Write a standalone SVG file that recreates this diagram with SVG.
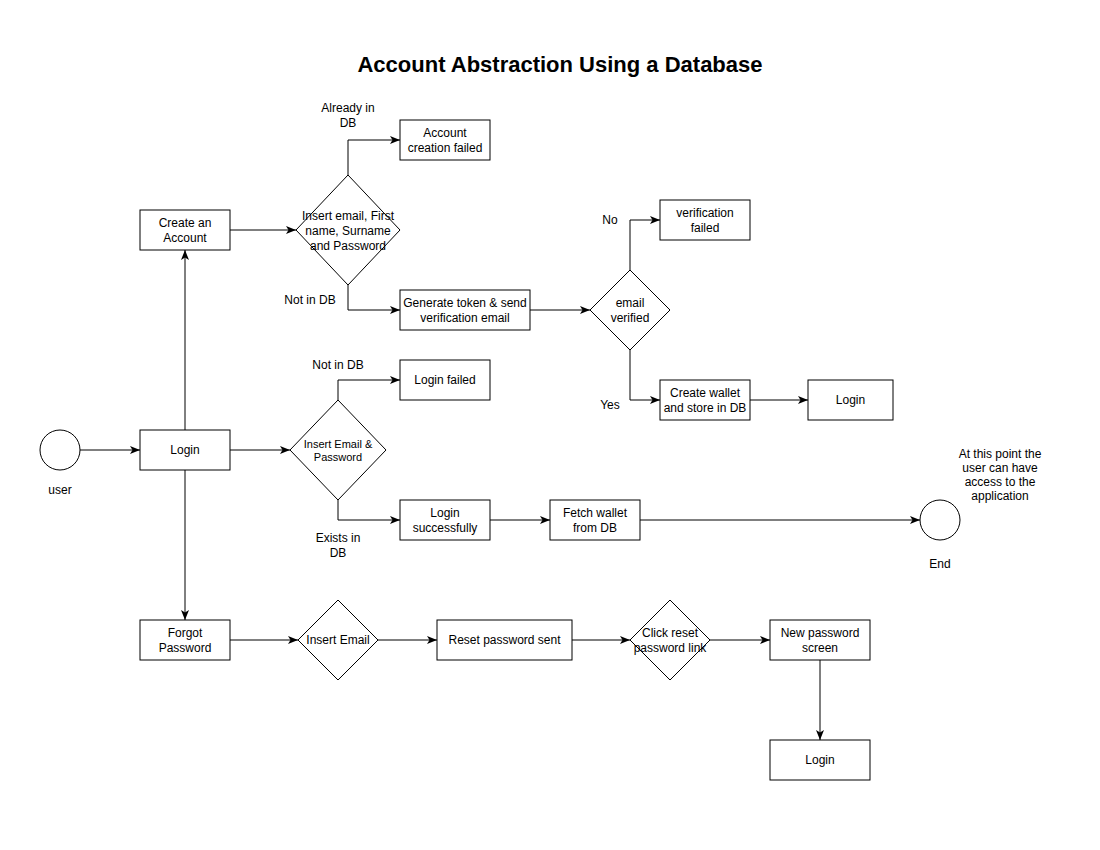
<svg xmlns="http://www.w3.org/2000/svg" width="1100" height="850" viewBox="0 0 1100 850">
<style>
  text { font-family: "Liberation Sans", Arial, sans-serif; font-size: 12px; fill: #000; text-anchor: middle; }
  .title { font-size: 22px; font-weight: bold; }
  .small { font-size: 11px; }
  .shape { fill: #fff; stroke: #000; stroke-width: 1; }
  .edge { fill: none; stroke: #000; stroke-width: 1; marker-end: url(#arrow); }
</style>
<defs>
  <marker id="arrow" markerUnits="userSpaceOnUse" markerWidth="10" markerHeight="8" refX="10" refY="4" orient="auto">
    <path d="M0,0 L10,4 L0,8 L2.5,4 z" fill="#000"/>
  </marker>
</defs>
<rect width="1100" height="850" fill="#fff"/>
<text class="title" x="560" y="72">Account Abstraction Using a Database</text>

<g id="connectors">
  <path class="edge" d="M80,450 L140,450"/>
  <path class="edge" d="M185,430 L185,250"/>
  <path class="edge" d="M185,470 L185,620"/>
  <path class="edge" d="M230,230 L296,230"/>
  <path class="edge" d="M348,175 L348,140 L400,140"/>
  <path class="edge" d="M348,285 L348,310 L400,310"/>
  <path class="edge" d="M530,310 L590,310"/>
  <path class="edge" d="M630,270 L630,220 L660,220"/>
  <path class="edge" d="M630,350 L630,400 L660,400"/>
  <path class="edge" d="M750,400 L808,400"/>
  <path class="edge" d="M230,450 L290,450"/>
  <path class="edge" d="M338,400 L338,380 L400,380"/>
  <path class="edge" d="M338,500 L338,520 L400,520"/>
  <path class="edge" d="M490,520 L550,520"/>
  <path class="edge" d="M640,520 L920,520"/>
  <path class="edge" d="M230,640 L298,640"/>
  <path class="edge" d="M378,640 L437,640"/>
  <path class="edge" d="M572,640 L630,640"/>
  <path class="edge" d="M710,640 L770,640"/>
  <path class="edge" d="M820,660 L820,740"/>
</g>

<g id="edge-labels">
  <text x="348" y="112">Already in</text>
  <text x="348" y="127">DB</text>
  <text x="310" y="304">Not in DB</text>
  <text x="610" y="224">No</text>
  <text x="610" y="409">Yes</text>
  <text x="338" y="369">Not in DB</text>
  <text x="338" y="542">Exists in</text>
  <text x="338" y="557">DB</text>
</g>

<g id="user">
  <circle class="shape" cx="60" cy="450" r="20"/>
  <text x="60" y="494">user</text>
</g>

<g id="create-account">
  <rect class="shape" x="140" y="210" width="90" height="40"/>
  <text x="185" y="227">Create an</text>
  <text x="185" y="242">Account</text>
</g>

<g id="login">
  <rect class="shape" x="140" y="430" width="90" height="40"/>
  <text x="185" y="454">Login</text>
</g>

<g id="forgot-password">
  <rect class="shape" x="140" y="620" width="90" height="40"/>
  <text x="185" y="637">Forgot</text>
  <text x="185" y="652">Password</text>
</g>

<g id="insert-details">
  <polygon class="shape" points="348,175 400,230 348,285 296,230"/>
  <text x="348" y="220">Insert email, First</text>
  <text x="348" y="235">name, Surname</text>
  <text x="348" y="250">and Password</text>
</g>

<g id="account-creation-failed">
  <rect class="shape" x="400" y="120" width="90" height="40"/>
  <text x="445" y="137">Account</text>
  <text x="445" y="152">creation failed</text>
</g>

<g id="generate-token">
  <rect class="shape" x="400" y="290" width="130" height="40"/>
  <text x="465" y="307">Generate token &amp; send</text>
  <text x="465" y="322">verification email</text>
</g>

<g id="email-verified">
  <polygon class="shape" points="630,270 670,310 630,350 590,310"/>
  <text x="630" y="307">email</text>
  <text x="630" y="322">verified</text>
</g>

<g id="verification-failed">
  <rect class="shape" x="660" y="200" width="90" height="40"/>
  <text x="705" y="217">verification</text>
  <text x="705" y="232">failed</text>
</g>

<g id="create-wallet">
  <rect class="shape" x="660" y="380" width="90" height="40"/>
  <text x="705" y="397">Create wallet</text>
  <text x="705" y="412">and store in DB</text>
</g>

<g id="login-top">
  <rect class="shape" x="808" y="380" width="85" height="40"/>
  <text x="850.5" y="404">Login</text>
</g>

<g id="insert-email-password">
  <polygon class="shape" points="338,400 386,450 338,500 290,450"/>
  <text class="small" x="338" y="448">Insert Email &amp;</text>
  <text class="small" x="338" y="461">Password</text>
</g>

<g id="login-failed">
  <rect class="shape" x="400" y="360" width="90" height="40"/>
  <text x="445" y="384">Login failed</text>
</g>

<g id="login-successfully">
  <rect class="shape" x="400" y="500" width="90" height="40"/>
  <text x="445" y="517">Login</text>
  <text x="445" y="532">successfully</text>
</g>

<g id="fetch-wallet">
  <rect class="shape" x="550" y="500" width="90" height="40"/>
  <text x="595" y="517">Fetch wallet</text>
  <text x="595" y="532">from DB</text>
</g>

<g id="end">
  <circle class="shape" cx="940" cy="520" r="20"/>
  <text x="940" y="568">End</text>
</g>

<g id="note">
  <text x="1000" y="458">At this point the</text>
  <text x="1000" y="472">user can have</text>
  <text x="1000" y="486">access to the</text>
  <text x="1000" y="500">application</text>
</g>

<g id="insert-email">
  <polygon class="shape" points="338,600 378,640 338,680 298,640"/>
  <text x="338" y="644">Insert Email</text>
</g>

<g id="reset-password-sent">
  <rect class="shape" x="437" y="620" width="135" height="40"/>
  <text x="504.5" y="644">Reset password sent</text>
</g>

<g id="click-reset-link">
  <polygon class="shape" points="670,600 710,640 670,680 630,640"/>
  <text x="670" y="637">Click reset</text>
  <text x="670" y="652">password link</text>
</g>

<g id="new-password-screen">
  <rect class="shape" x="770" y="620" width="100" height="40"/>
  <text x="820" y="637">New password</text>
  <text x="820" y="652">screen</text>
</g>

<g id="login-bottom">
  <rect class="shape" x="770" y="740" width="100" height="40"/>
  <text x="820" y="764">Login</text>
</g>
</svg>
